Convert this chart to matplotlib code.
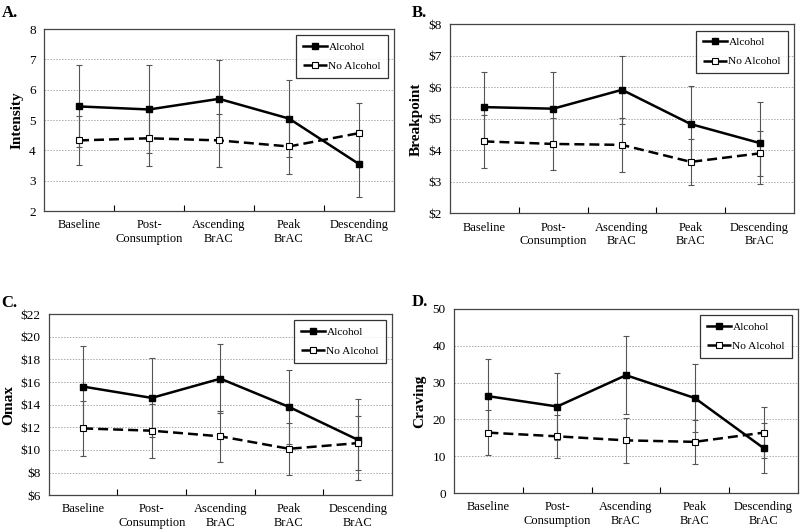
import matplotlib
matplotlib.use('Agg')
import matplotlib.pyplot as plt
from matplotlib.ticker import FuncFormatter

plt.rcParams['font.family'] = ['Liberation Serif', 'DejaVu Serif']

# ── data ─────────────────────────────────────────────────────
categories = ['Baseline', 'Post-\nConsumption', 'Ascending\nBrAC', 'Peak\nBrAC', 'Descending\nBrAC']

intensity_alc = [5.45, 5.35, 5.70, 5.05, 3.55]
intensity_alc_err = [1.35, 1.45, 1.28, 1.28, 1.08]
intensity_no = [4.33, 4.40, 4.33, 4.13, 4.57]
intensity_no_err = [0.82, 0.90, 0.87, 0.92, 0.98]

breakpoint_alc = [5.37, 5.32, 5.92, 4.83, 4.23]
breakpoint_alc_err = [1.12, 1.18, 1.08, 1.22, 1.30]
breakpoint_no = [4.28, 4.20, 4.17, 3.63, 3.90]
breakpoint_no_err = [0.83, 0.82, 0.87, 0.73, 0.72]

omax_alc = [15.6, 14.6, 16.3, 13.8, 10.9]
omax_alc_err = [3.6, 3.5, 3.05, 3.3, 3.6]
omax_no = [11.9, 11.7, 11.2, 10.1, 10.6]
omax_no_err = [2.4, 2.4, 2.25, 2.3, 2.4]

craving_alc = [26.3, 23.5, 32.0, 25.8, 12.2]
craving_alc_err = [10.2, 9.2, 10.6, 9.2, 6.7]
craving_no = [16.4, 15.4, 14.3, 13.9, 16.4]
craving_no_err = [6.1, 5.9, 6.1, 6.0, 6.9]

panels = [
    ('A.', 'Intensity', intensity_alc, intensity_alc_err, intensity_no, intensity_no_err, (2, 8, 1), False),
    ('B.', 'Breakpoint', breakpoint_alc, breakpoint_alc_err, breakpoint_no, breakpoint_no_err, (2, 8, 1), True),
    ('C.', 'Omax', omax_alc, omax_alc_err, omax_no, omax_no_err, (6, 22, 2), True),
    ('D.', 'Craving', craving_alc, craving_alc_err, craving_no, craving_no_err, (0, 50, 10), False),
]

# axes rects in figure fractions, letter positions
rects = [
    [0.055, 0.601, 0.4375, 0.344],
    [0.5625, 0.597, 0.430, 0.357],
    [0.061, 0.064, 0.429, 0.342],
    [0.5675, 0.068, 0.430, 0.348],
]
letters_xy = [(0.002, 0.975), (0.515, 0.975), (0.002, 0.428), (0.515, 0.430)]

fig = plt.figure(figsize=(8.0, 5.29), dpi=100)
x = list(range(len(categories)))

for (letter, ylab, alc, alc_e, no, no_e, yr, dollar), rect, lxy in zip(panels, rects, letters_xy):
    ax = fig.add_axes(rect)
    lo, hi, step = yr
    ax.set_ylim(lo, hi)
    ax.set_xlim(-0.5, 4.5)
    yt = list(range(lo, hi + 1, step))
    ax.set_yticks(yt)
    if dollar:
        ax.yaxis.set_major_formatter(FuncFormatter(lambda v, p: f'${v:.0f}'))
    for v in yt[1:-1]:
        ax.axhline(v, color='#aaaaaa', lw=0.7, ls=(0, (1.5, 1.5)), zorder=0)

    ax.errorbar(x, alc, yerr=alc_e, fmt='none', ecolor='#555555', elinewidth=0.8,
                capsize=2.5, capthick=0.8, zorder=2)
    ax.errorbar(x, no, yerr=no_e, fmt='none', ecolor='#555555', elinewidth=0.8,
                capsize=2.5, capthick=0.8, zorder=2)
    ax.plot(x, alc, color='black', lw=1.8, marker='s', ms=4.5, mfc='black',
            mec='black', label='Alcohol', zorder=3)
    ax.plot(x, no, color='black', lw=1.8, ls=(0, (4, 2)), marker='s', ms=4.5,
            mfc='white', mec='black', mew=0.8, label='No Alcohol', zorder=3)

    # category boundaries as ticks, labels at centres
    ax.set_xticks([0.5, 1.5, 2.5, 3.5])
    ax.set_xticklabels([])
    ax.tick_params(axis='x', which='major', direction='in', length=4, width=0.8)
    ax.set_xticks(x, minor=True)
    ax.set_xticklabels(categories, minor=True, fontsize=9, linespacing=1.15)
    ax.tick_params(axis='x', which='minor', length=0, pad=6)
    ax.tick_params(axis='y', length=0, labelsize=9.5, pad=6)

    for s in ax.spines.values():
        s.set_color('#444444')
        s.set_linewidth(0.9)

    ax.set_ylabel(ylab, fontsize=11, fontweight='bold', labelpad=4)

    leg = ax.legend(loc='upper right', fontsize=8.2, frameon=True, fancybox=False,
                    edgecolor='black', handlelength=2.1, borderpad=0.6,
                    labelspacing=0.8, handletextpad=0.15, borderaxespad=0.55)
    leg.get_frame().set_linewidth(0.9)

    fig.text(lxy[0], lxy[1], letter, fontsize=12, fontweight='bold', ha='left', va='center')

fig.savefig('out.png', dpi=100, facecolor='white')
